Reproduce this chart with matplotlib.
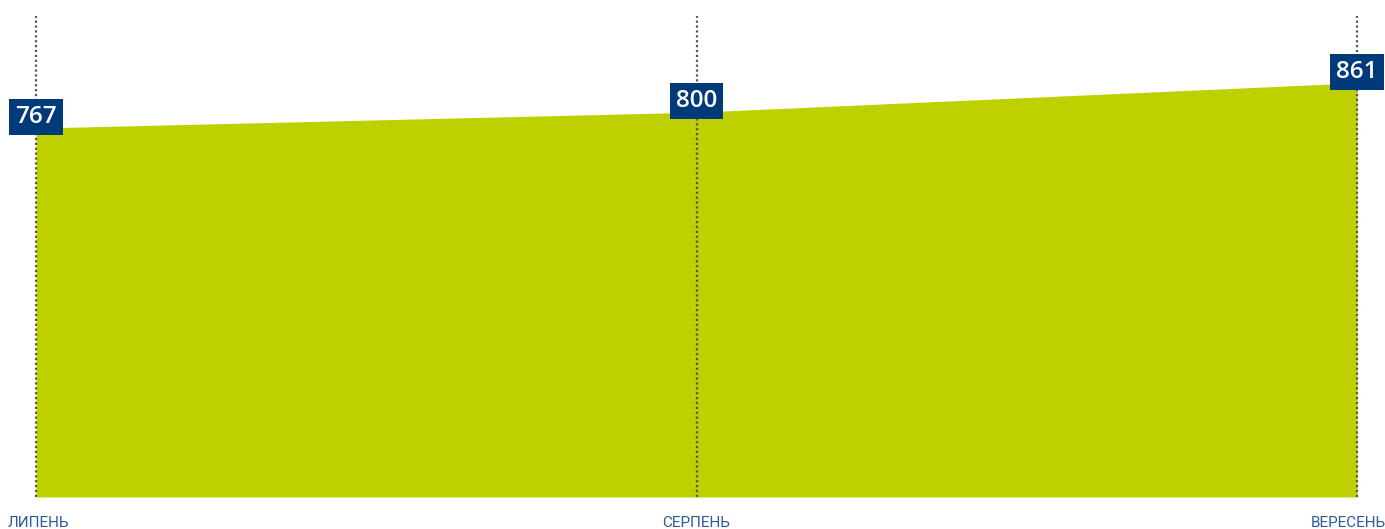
import matplotlib
matplotlib.use('Agg')
import matplotlib.pyplot as plt

months = ["ЛИПЕНЬ", "СЕРПЕНЬ", "ВЕРЕСЕНЬ"]
values = [767, 800, 861]

fig = plt.figure(figsize=(13.85, 5.29), dpi=100)
ax = fig.add_axes([36 / 1385, 32 / 529, (1357 - 36) / 1385, (497 - 16) / 529])
x = list(range(len(months)))

ax.fill_between(x, 0, values, color="#bfd000", linewidth=0, zorder=1)
for xi in x:
    ax.axvline(xi, color="#555555", linestyle=(0, (1, 1.2)), linewidth=1.6,
               zorder=2, clip_on=False)

for xi, v in zip(x, values):
    ax.annotate(str(v), (xi, v), xytext=(0, 8), textcoords="offset points",
                ha="center", va="center", color="white", fontsize=17.5,
                fontweight="semibold", family="Open Sans", zorder=5,
                annotation_clip=False,
                bbox=dict(boxstyle="square,pad=0.24", fc="#003a78", ec="none"))

# month labels under the axis
label_dx = [2, 0, -6]
for xi, m, dx in zip(x, months, label_dx):
    ax.annotate(m, (xi, 0), xytext=(dx, -19), textcoords="offset points",
                ha="center", va="center", color="#2a5a9a", fontsize=11,
                family="Roboto", annotation_clip=False)

ax.set_xlim(0, 2)
ax.set_ylim(0, 1000)
ax.set_xticks([])
ax.set_yticks([])
for s in ax.spines.values():
    s.set_visible(False)

fig.savefig("out.png", dpi=100)
